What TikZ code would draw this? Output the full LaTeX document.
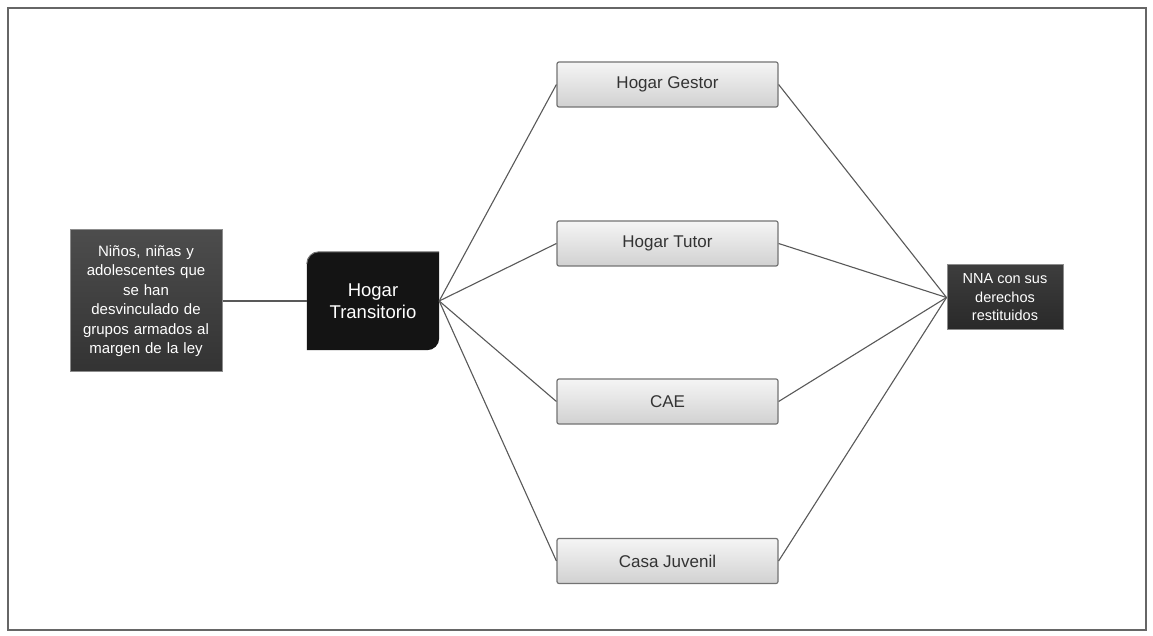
\documentclass[tikz,border=0pt]{standalone}
\usepackage{fontspec}
\setmainfont{Liberation Sans}
\begin{document}
\begin{tikzpicture}[x=1pt,y=1pt,
  conn/.style={draw=black!65, line width=1.1pt},
  darkbox/.style={draw=black!45, line width=1pt, top color=black!70, bottom color=black!80, text=white, align=center, inner sep=0pt},
  midbox/.style={draw=black!55, line width=1.2pt, rounded corners=2pt, top color=black!4, bottom color=black!18, text=black!80, minimum width=221pt, minimum height=45pt, inner sep=0pt, font=\fontsize{17}{20}\selectfont},
]
\useasboundingbox (0,0) rectangle (1153,635);
\fill[white] (0,0) rectangle (1153,635);
\draw[black!60, line width=2pt] (8,5) rectangle (1146,627);

\node[darkbox, minimum width=152pt, minimum height=142pt, text width=148pt, font=\fontsize{15}{19.5}\selectfont] (src) at (146,334)
  {Niños, niñas y\\adolescentes que\\se han\\desvinculado de\\grupos armados al\\margen de la ley};

\node[minimum width=132pt, minimum height=98pt, inner sep=0pt] (ht) at (373,334) {};
\fill[black!92] (ht.south west) -- ([yshift=-12pt]ht.north west) arc[start angle=180,end angle=90,radius=12pt]
  -- (ht.north east) -- ([yshift=12pt]ht.south east) arc[start angle=0,end angle=-90,radius=12pt] -- cycle;
\draw[black!55, line width=1pt] ([yshift=-12pt]ht.north west) arc[start angle=180,end angle=90,radius=12pt] -- (ht.north east);
\node[text=white, align=center, font=\fontsize{18.5}{22}\selectfont] (htt) at (ht.center) {Hogar\\Transitorio};

\node[midbox] (g1) at (667.5,550.5) {Hogar Gestor};
\node[midbox] (g2) at (667.5,391.5) {Hogar Tutor};
\node[midbox] (g3) at (667.5,233.5) {CAE};
\node[midbox] (g4) at (667.5,74) {Casa Juvenil};

\node[darkbox, minimum width=116pt, minimum height=65pt, top color=black!76, bottom color=black!84, font=\fontsize{14.5}{18.5}\selectfont] (dst) at (1005,337.5)
  {NNA con sus\\derechos\\restituidos};

\draw[conn] (src.east) -- (ht.west);
\foreach \g in {g1,g2,g3,g4} {
  \draw[conn] (ht.east) -- (\g.west);
  \draw[conn] (\g.east) -- (dst.west);
}
\end{tikzpicture}
\end{document}
